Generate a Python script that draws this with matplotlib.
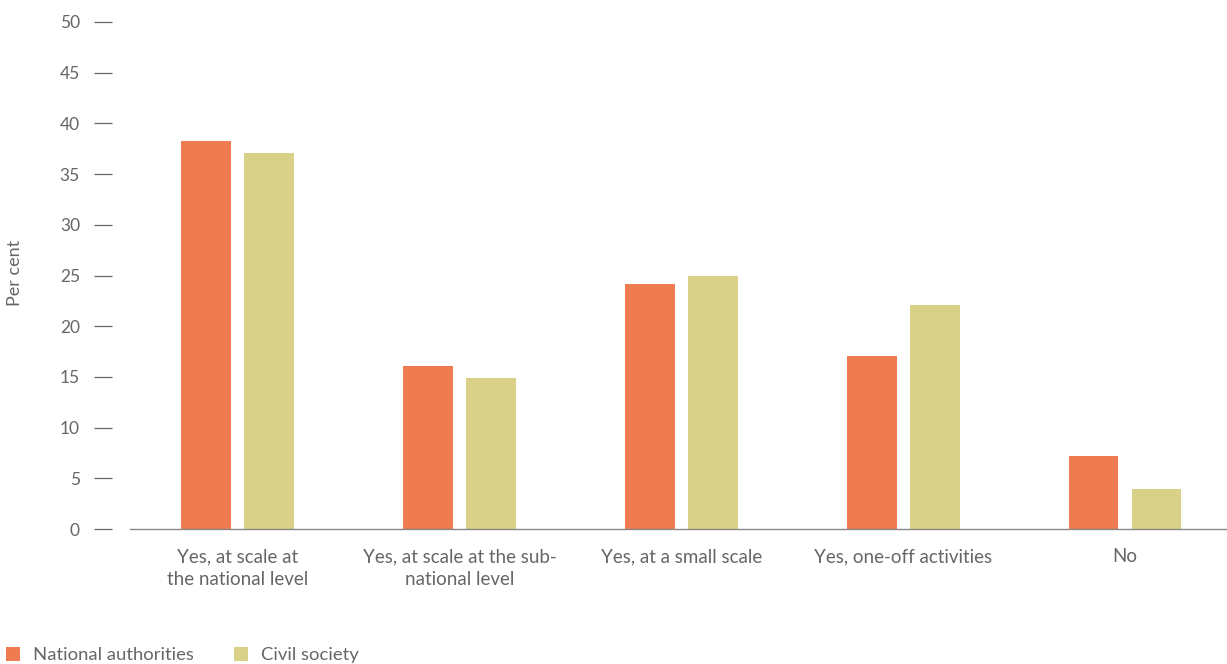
import matplotlib.pyplot as plt
import numpy as np

categories = ["Yes, at scale at\nthe national level",
              "Yes, at scale at the sub-\nnational level",
              "Yes, at a small scale",
              "Yes, one-off activities",
              "No"]
national = [38.3, 16.1, 24.2, 17.1, 7.2]
civil = [37.1, 14.9, 25.0, 22.1, 3.9]
yticks = [0, 5, 10, 15, 20, 25, 30, 35, 40, 45, 50]

ORANGE = '#EF7B50'
KHAKI = '#D8D187'
GREY = '#666666'

plt.rcParams['font.family'] = ['Lato', 'DejaVu Sans']

fig = plt.figure(figsize=(12.27, 6.64), dpi=100)
ax = fig.add_axes([130 / 1227, 1 - 529 / 664, 1 - 130 / 1227, (529 - 22) / 664])

x = np.arange(len(categories))
w = 0.225
off = 0.142
ax.bar(x - off, national, w, color=ORANGE, label='National authorities')
ax.bar(x + off, civil, w, color=KHAKI, label='Civil society')

ax.set_xlim(-0.486, 4.46)
ax.set_ylim(0, 50)
ax.set_yticks(yticks)
ax.set_xticks(x)
ax.set_xticklabels(categories, fontsize=13.5, color=GREY, linespacing=1.4)
ax.tick_params(axis='x', length=0, pad=14)
# spine offset and tick length are in points (1 pt = 1.39 px at 100 dpi)
ax.tick_params(axis='y', length=13, width=0.9, color=GREY, labelsize=12.5,
               labelcolor=GREY, pad=10)

for s in ['top', 'right']:
    ax.spines[s].set_visible(False)
ax.spines['left'].set_position(('outward', 13))
ax.spines['left'].set_visible(False)
ax.spines['bottom'].set_color('#888888')
ax.spines['bottom'].set_linewidth(1)

fig.text(15 / 1227, 1 - 273 / 664, 'Per cent', rotation=90, ha='center', va='center',
         fontsize=13, color=GREY)

fig.legend(loc='center left', bbox_to_anchor=(6 / 1227, 1 - 655 / 664), ncol=2, frameon=False,
           fontsize=13.3, labelcolor=GREY, handlelength=0.75, handleheight=0.8,
           handletextpad=0.7, columnspacing=2.2, borderaxespad=0, borderpad=0)

fig.savefig('out.png', dpi=100)
